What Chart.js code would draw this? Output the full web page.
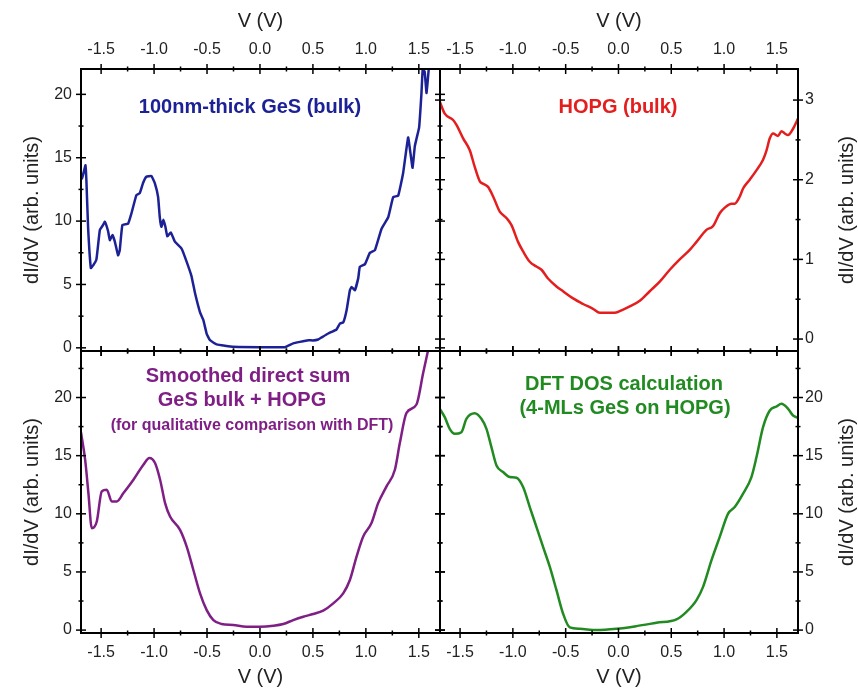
<!DOCTYPE html>
<html>
<head>
<meta charset="utf-8">
<script src="https://cdn.jsdelivr.net/npm/chart.js@4.4.1/dist/chart.umd.min.js"></script>
<style>
  body { margin: 0; background: #fff; }
  #wrap { position: relative; width: 858px; height: 692px; background: #fff; }
  #wrap canvas { position: absolute; left: 0; top: 0; }
</style>
</head>
<body>
<div id="wrap">
  <canvas id="cGeS" width="858" height="692"></canvas>
  <canvas id="cHopg" width="858" height="692"></canvas>
  <canvas id="cSum" width="858" height="692"></canvas>
  <canvas id="cDft" width="858" height="692"></canvas>
</div>
<script>
// 100nm-thick GeS (bulk) - top left
const vGeS = [-1.685,-1.679,-1.660,-1.648,-1.639,-1.623,-1.597,-1.575,-1.544,-1.512,
              -1.481,-1.465,-1.434,-1.418,-1.393,-1.371,-1.340,-1.324,-1.299,-1.245,
              -1.214,-1.167,-1.135,-1.104,-1.073,-1.025,-0.993,-0.962,-0.946,-0.931,
              -0.912,-0.893,-0.875,-0.842,-0.805,-0.742,-0.710,-0.648,-0.613,-0.566,
              -0.535,-0.503,-0.472,-0.409,-0.252,0.0,0.236,0.314,0.377,0.456,
              0.50,0.55,0.582,0.645,0.723,0.755,0.786,0.818,0.849,0.865,
              0.896,0.928,0.943,0.991,1.038,1.085,1.148,1.211,1.258,1.305,
              1.352,1.399,1.422,1.441,1.462,1.478,1.503,1.525,1.537,1.555,
              1.573,1.597,1.62];
const dGeS = [13.3,13.4,14.0,14.4,13.2,9.5,6.3,6.5,7.0,9.3,
              9.7,9.95,9.2,8.5,8.9,8.4,7.3,7.7,9.7,9.8,
              10.6,12.05,12.2,13.0,13.5,13.55,13.0,11.9,10.3,9.55,
              10.1,9.55,8.8,9.1,8.4,7.85,7.2,5.7,4.3,2.8,
              2.2,1.1,0.6,0.27,0.08,0.05,0.05,0.35,0.47,0.6,
              0.58,0.66,0.82,1.13,1.45,1.92,2.0,2.97,4.55,4.8,
              4.55,5.5,6.4,6.6,7.5,7.7,9.4,10.3,11.9,12.0,
              13.8,16.6,15.3,14.2,15.9,16.5,17.4,20.1,22.0,21.8,
              20.1,22.3,23.5];

// HOPG (bulk) - top right
const vHopg = [-1.692,-1.645,-1.566,-1.534,-1.471,-1.408,-1.361,-1.313,-1.282,-1.235,-1.187,-1.124,-1.061,-1.013,-0.951,-0.903,-0.840,-0.777,-0.729,-0.667,-0.587,-0.525,-0.430,-0.335,-0.241,-0.177,-0.098,-0.035,0.044,0.107,0.202,0.296,0.391,0.486,0.580,0.675,0.739,0.833,0.896,0.959,1.007,1.070,1.101,1.149,1.180,1.243,1.338,1.369,1.402,1.433,1.464,1.511,1.544,1.575,1.606,1.653,1.701];
const dHopg = [2.98,2.83,2.75,2.69,2.52,2.37,2.16,1.98,1.95,1.91,1.79,1.60,1.52,1.43,1.22,1.10,0.97,0.91,0.87,0.76,0.66,0.60,0.51,0.44,0.38,0.33,0.33,0.33,0.37,0.41,0.48,0.60,0.72,0.87,1.0,1.12,1.22,1.37,1.42,1.58,1.65,1.70,1.70,1.79,1.89,2.0,2.18,2.25,2.37,2.52,2.58,2.55,2.61,2.58,2.56,2.64,2.77];

// smoothed direct sum - bottom left
const vSum = [-1.69,-1.651,-1.62,-1.588,-1.541,-1.494,-1.447,-1.399,-1.352,-1.289,-1.195,-1.101,-1.044,-0.991,-0.943,-0.896,-0.849,-0.755,-0.692,-0.629,-0.566,-0.503,-0.440,-0.362,-0.252,-0.126,0.0,0.126,0.22,0.314,0.409,0.503,0.597,0.692,0.786,0.849,0.912,0.975,1.053,1.116,1.195,1.274,1.321,1.384,1.478,1.541,1.60];
const dSum = [17.0,14.66,11.78,8.76,9.34,11.92,12.07,11.06,11.06,11.78,12.93,14.22,14.8,14.37,12.93,10.92,9.77,8.62,7.18,5.17,3.16,1.72,0.86,0.52,0.43,0.29,0.29,0.37,0.52,0.86,1.15,1.38,1.67,2.30,3.16,4.31,6.32,8.04,9.2,10.92,12.36,13.79,16.1,18.68,19.4,22.1,24.6];

// DFT DOS - bottom right
const vDft = [-1.692,-1.645,-1.598,-1.550,-1.487,-1.440,-1.361,-1.298,-1.25,-1.203,-1.155,-1.093,-1.029,-0.966,-0.903,-0.840,-0.777,-0.714,-0.650,-0.587,-0.525,-0.461,-0.366,-0.208,-0.019,0.170,0.360,0.549,0.644,0.739,0.801,0.881,0.959,1.038,1.101,1.180,1.259,1.307,1.369,1.433,1.496,1.544,1.606,1.653,1.701];
const dDft = [19.03,18.31,17.31,16.88,17.02,18.17,18.65,18.17,17.31,15.73,14.16,13.59,13.16,13.1,12.3,10.58,8.87,7.15,5.43,3.43,1.43,0.23,0.11,0.0,0.11,0.34,0.63,0.92,1.57,2.58,3.72,6.01,8.01,10.02,10.58,11.73,13.16,14.88,17.45,18.88,19.23,19.46,19.03,18.45,18.26];

const xTickStep = 0.25;
const xMajorStep = 0.5;
const xTitle = "V (V)";
const yTitle = "dI/dV (arb. units)";

Chart.defaults.font.family = '"Liberation Sans", Arial, sans-serif';
Chart.defaults.color = "#222";

function isMajor(v, step){
    let r = v / step;
    return Math.abs(r - Math.round(r)) < 1e-6;
}
function toPoints(xs, ys){
    return xs.map((x, i) => ({x: x, y: ys[i]}));
}

function xAxis(pos){
    return {
        type: "linear", position: pos, min: -1.69, max: 1.70,
        ticks: {
            stepSize: xTickStep, includeBounds: false, autoSkip: false, maxRotation: 0,
            padding: 4, font: {size: 16}, color: "#222",
            callback: v => isMajor(v, xMajorStep) ? (Math.abs(v) < 1e-9 ? "0.0" : v.toFixed(1)) : ""
        },
        grid: {drawOnChartArea: false, drawTicks: true, tickLength: 6, tickColor: "rgba(0,0,0,0)"},
        border: {display: false},
        title: {display: true, text: xTitle, font: {size: 20}, color: "#222",
                padding: pos === "top" ? {top: 9, bottom: 0} : {top: 0, bottom: 3}},
        afterFit: s => { s.height = pos === "top" ? 69 : 59; }
    };
}
function yAxis(pos, min, max, step, major){
    return {
        type: "linear", position: pos, min: min, max: max,
        ticks: {
            stepSize: step, includeBounds: false, autoSkip: false,
            padding: pos === "left" ? 3 : 1, font: {size: 16}, color: "#222",
            callback: v => isMajor(v, major) ? String(Math.round(v)) : ""
        },
        grid: {drawOnChartArea: false, drawTicks: true, tickLength: 6, tickColor: "rgba(0,0,0,0)"},
        border: {display: false},
        // right-hand titles read bottom-to-top, drawn by the frame plugin
        title: {display: pos === "left", text: yTitle, font: {size: 20}, color: "#222", padding: {top: 20, bottom: 0}},
        afterFit: s => { s.width = pos === "left" ? 81 : 60; }
    };
}

const framePlugin = {
    id: "frame",
    afterDatasetsDraw(chart, args, opts){
        const ctx = chart.ctx;
        const a = chart.chartArea;
        const xs = chart.scales.x, ys = chart.scales.y;
        function seg(x1, y1, x2, y2){ ctx.beginPath(); ctx.moveTo(x1, y1); ctx.lineTo(x2, y2); ctx.stroke(); }
        ctx.save();
        ctx.strokeStyle = "#000";
        ctx.lineWidth = 1.5;
        xs.ticks.forEach(t => {
            let px = xs.getPixelForValue(t.value);
            let len = isMajor(t.value, xMajorStep) ? 5 : 2.5;
            seg(px, a.top - len, px, a.top + len);
            seg(px, a.bottom - len, px, a.bottom + len);
        });
        ys.ticks.forEach(t => {
            let py = ys.getPixelForValue(t.value);
            let len = isMajor(t.value, opts.yMajor) ? 5 : 2.5;
            seg(a.left - len, py, a.left + len, py);
            seg(a.right - len, py, a.right + len, py);
        });
        ctx.lineWidth = 2;
        ctx.strokeRect(a.left, a.top, a.right - a.left, a.bottom - a.top);

        ctx.textAlign = "center";
        ctx.textBaseline = "middle";
        (opts.notes || []).forEach(n => {
            ctx.font = "bold " + n.size + 'px "Liberation Sans", Arial, sans-serif';
            ctx.fillStyle = opts.color;
            ctx.fillText(n.text, n.x, n.y);
        });
        if(opts.rightTitle){
            ctx.save();
            ctx.translate(847, (a.top + a.bottom) / 2);
            ctx.rotate(-Math.PI / 2);
            ctx.font = '20px "Liberation Sans", Arial, sans-serif';
            ctx.fillStyle = "#222";
            ctx.fillText(yTitle, 0, 0);
            ctx.restore();
        }
        ctx.restore();
    }
};

function makePanel(id, xs, ys, color, smooth, xPos, yPos, yMin, yMax, yStep, yMajor, padding, notes){
    return new Chart(document.getElementById(id), {
        type: "line",
        data: {
            datasets: [{
                data: toPoints(xs, ys),
                borderColor: color,
                borderWidth: 2.5,
                pointRadius: 0,
                fill: false,
                tension: smooth ? 0.4 : 0.1,
                cubicInterpolationMode: smooth ? "monotone" : "default"
            }]
        },
        options: {
            responsive: false,
            devicePixelRatio: 1,
            animation: false,
            layout: {padding: padding},
            scales: {
                x: xAxis(xPos),
                y: yAxis(yPos, yMin, yMax, yStep, yMajor)
            },
            plugins: {
                legend: {display: false},
                tooltip: {enabled: false},
                frame: {yMajor: yMajor, color: color, notes: notes, rightTitle: yPos === "right"}
            }
        },
        plugins: [framePlugin]
    });
}

makePanel("cGeS", vGeS, dGeS, "#1c2296", false, "top", "left", -0.25, 22, 2.5, 5,
    {left: 0, top: 0, right: 418, bottom: 341},
    [{text: "100nm-thick GeS (bulk)", x: 250, y: 107, size: 20}]);

makePanel("cHopg", vHopg, dHopg, "#e41e1e", true, "top", "right", -0.15, 3.39, 0.5, 1,
    {left: 440, top: 0, right: 0, bottom: 341},
    [{text: "HOPG (bulk)", x: 618, y: 107, size: 20}]);

makePanel("cSum", vSum, dSum, "#7f1f85", true, "bottom", "left", -0.25, 24, 2.5, 5,
    {left: 0, top: 351, right: 418, bottom: 0},
    [{text: "Smoothed direct sum", x: 248, y: 376, size: 20},
     {text: "GeS bulk + HOPG", x: 242, y: 400, size: 20},
     {text: "(for qualitative comparison with DFT)", x: 252, y: 426, size: 16}]);

makePanel("cDft", vDft, dDft, "#218a21", true, "bottom", "right", -0.25, 24, 2.5, 5,
    {left: 440, top: 351, right: 0, bottom: 0},
    [{text: "DFT DOS calculation", x: 624, y: 384, size: 20},
     {text: "(4-MLs GeS on HOPG)", x: 625, y: 408, size: 20}]);
</script>
</body>
</html>
